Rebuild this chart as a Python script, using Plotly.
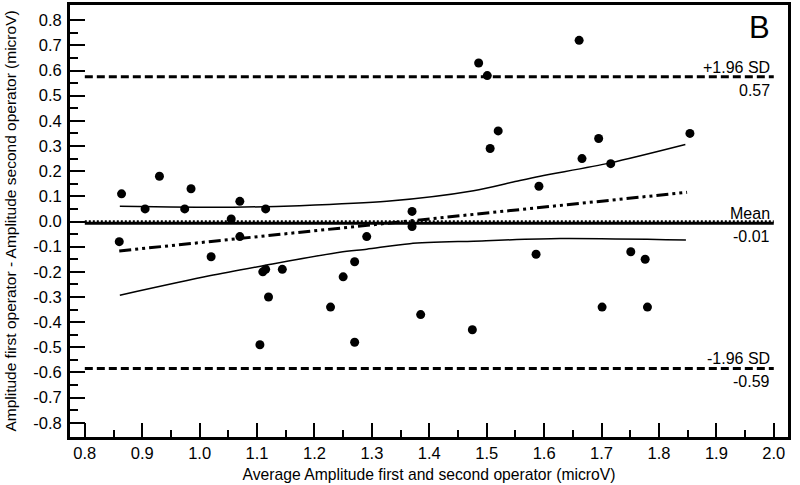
import plotly.graph_objects as go

# ---- data ----
avg_x = [0.860, 0.864, 0.905, 0.930, 0.974, 0.985, 1.020, 1.055, 1.070, 1.070,
         1.105, 1.110, 1.115, 1.115, 1.120, 1.144, 1.228, 1.250, 1.270, 1.270,
         1.291, 1.370, 1.370, 1.385, 1.475, 1.486, 1.501, 1.506, 1.520, 1.586,
         1.591, 1.661, 1.666, 1.695, 1.701, 1.716, 1.751, 1.776, 1.780, 1.854]
diff_y = [-0.08, 0.11, 0.05, 0.18, 0.05, 0.13, -0.14, 0.01, 0.08, -0.06,
          -0.49, -0.20, -0.19, 0.05, -0.30, -0.19, -0.34, -0.22, -0.16, -0.48,
          -0.06, 0.04, -0.02, -0.37, -0.43, 0.63, 0.58, 0.29, 0.36, -0.13,
          0.14, 0.72, 0.25, 0.33, -0.34, 0.23, -0.12, -0.15, -0.34, 0.35]

mean_diff = -0.007
upper_loa = 0.575
lower_loa = -0.584
zero_line = 0.0
line_x_span = [0.8, 2.0]

reg_x = [0.860, 1.849]
reg_y = [-0.117, 0.116]

upper_band_x = [0.861, 1.058, 1.174, 1.326, 1.477, 1.552, 1.593, 1.715, 1.846]
upper_band_y = [0.061, 0.057, 0.063, 0.080, 0.122, 0.160, 0.180, 0.233, 0.306]
lower_band_x = [0.861, 1.017, 1.110, 1.244, 1.291, 1.366, 1.477, 1.628, 1.847]
lower_band_y = [-0.293, -0.216, -0.176, -0.122, -0.110, -0.088, -0.078, -0.068, -0.074]

x_ticks = [0.8, 0.9, 1.0, 1.1, 1.2, 1.3, 1.4, 1.5, 1.6, 1.7, 1.8, 1.9, 2.0]
x_tick_labels = ["0.8", "0.9", "1.0", "1.1", "1.2", "1.3", "1.4", "1.5", "1.6", "1.7", "1.8", "1.9", "2.0"]
x_minor = [0.85, 0.95, 1.05, 1.15, 1.25, 1.35, 1.45, 1.55, 1.65, 1.75, 1.85, 1.95]
y_ticks = [0.8, 0.7, 0.6, 0.5, 0.4, 0.3, 0.2, 0.1, 0.0, -0.1, -0.2, -0.3, -0.4, -0.5, -0.6, -0.7, -0.8]
y_tick_labels = ["0.8", "0.7", "0.6", "0.5", "0.4", "0.3", "0.2", "0.1", "0.0", "-0.1", "-0.2",
                 "-0.3", "-0.4", "-0.5", "-0.6", "-0.7", "-0.8"]
y_minor = [0.75, 0.65, 0.55, 0.45, 0.35, 0.25, 0.15, 0.05, -0.05, -0.15, -0.25, -0.35,
           -0.45, -0.55, -0.65, -0.75]

FONT = "Arial, 'Liberation Sans', sans-serif"

fig = go.Figure()

# limits of agreement
for yv in (upper_loa, lower_loa):
    fig.add_trace(go.Scatter(x=line_x_span, y=[yv, yv], mode="lines",
                             line=dict(color="black", width=3, dash="8px,4px"),
                             hoverinfo="skip", showlegend=False))
# zero (dotted) line
fig.add_trace(go.Scatter(x=line_x_span, y=[zero_line, zero_line], mode="lines",
                         line=dict(color="black", width=2.5, dash="2px,2px"),
                         hoverinfo="skip", showlegend=False))
# mean line
fig.add_trace(go.Scatter(x=line_x_span, y=[mean_diff, mean_diff], mode="lines",
                         line=dict(color="black", width=3),
                         hoverinfo="skip", showlegend=False))
# regression line
fig.add_trace(go.Scatter(x=reg_x, y=reg_y, mode="lines",
                         line=dict(color="black", width=3, dash="12px,4px,3px,4px,3px,4px"),
                         hoverinfo="skip", showlegend=False))
# confidence bands
fig.add_trace(go.Scatter(x=upper_band_x, y=upper_band_y, mode="lines",
                         line=dict(color="black", width=1.5, shape="spline", smoothing=0.8),
                         hoverinfo="skip", showlegend=False))
fig.add_trace(go.Scatter(x=lower_band_x, y=lower_band_y, mode="lines",
                         line=dict(color="black", width=1.5, shape="spline", smoothing=0.8),
                         hoverinfo="skip", showlegend=False))
# points
fig.add_trace(go.Scatter(x=avg_x, y=diff_y, mode="markers",
                         marker=dict(color="black", size=9), showlegend=False))

ann_font = dict(family=FONT, size=16, color="black")
labels = [("+1.96 SD", upper_loa, "bottom"), ("0.57", upper_loa, "top"),
          ("Mean", mean_diff, "bottom"), ("-0.01", mean_diff, "top"),
          ("-1.96 SD", lower_loa, "bottom"), ("-0.59", lower_loa, "top")]
for txt, yv, anch in labels:
    fig.add_annotation(x=1.997, y=yv, text=txt, showarrow=False, xanchor="right",
                       yanchor=anch, yshift=(-1 if anch == "bottom" else -3), font=ann_font)

fig.add_annotation(x=1.997, y=0.85, text="B", showarrow=False, xanchor="right",
                   yanchor="top", font=dict(family=FONT, size=31, color="black"))

fig.update_layout(
    width=800, height=485,
    margin=dict(l=70, r=12, t=5, b=48, autoexpand=False),
    paper_bgcolor="white", plot_bgcolor="white",
    font=dict(family=FONT, color="black"),
    showlegend=False,
    xaxis=dict(range=[0.7742, 2.0248], tickmode="array", tickvals=x_ticks, ticktext=x_tick_labels,
               ticks="inside", ticklen=14, tickwidth=2, tickcolor="black",
               minor=dict(tickmode="array", tickvals=x_minor, ticks="inside", ticklen=7,
                          tickwidth=2, tickcolor="black", showgrid=False),
               showline=True, linewidth=3, linecolor="black", mirror=True, automargin=False,
               showgrid=False, zeroline=False, tickfont=dict(size=16.5, family=FONT),
               ticklabelstandoff=-1,
               title=dict(text="Average Amplitude first and second operator (microV)",
                          font=dict(size=15.7, family=FONT), standoff=9)),
    yaxis=dict(range=[-0.8564, 0.8604], tickmode="array", tickvals=y_ticks, ticktext=y_tick_labels,
               ticks="inside", ticklen=15, tickwidth=2, tickcolor="black",
               minor=dict(tickmode="array", tickvals=y_minor, ticks="inside", ticklen=8,
                          tickwidth=2, tickcolor="black", showgrid=False),
               showline=True, linewidth=3, linecolor="black", mirror=True, automargin=False,
               showgrid=False, zeroline=False, tickfont=dict(size=16.5, family=FONT),
               ticklabelstandoff=2,
               title=dict(text="Amplitude first operator - Amplitude second operator (microV)",
                          font=dict(size=15.5, family=FONT), standoff=13)),
)

fig.write_html("out.html", config={"displayModeBar": False},
               post_script="document.body.style.margin='0';")
